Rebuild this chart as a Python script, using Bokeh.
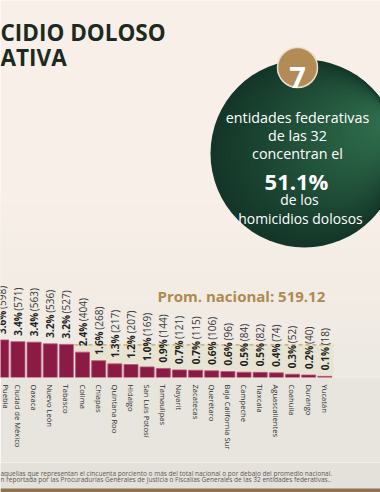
import numpy as np
from bokeh.plotting import figure
from bokeh.layouts import column
from bokeh.models import Range1d, FixedTicker
from bokeh.core.properties import value
from bokeh.embed import file_html
from bokeh.resources import INLINE

# ---------------- data ----------------
states = ["Puebla", "Ciudad de México", "Oaxaca", "Nuevo León", "Tabasco", "Colima",
          "Chiapas", "Quintana Roo", "Hidalgo", "San Luis Potosí", "Tamaulipas",
          "Nayarit", "Zacatecas", "Querétaro", "Baja California Sur", "Campeche",
          "Tlaxcala", "Aguascalientes", "Coahuila", "Durango", "Yucatán"]
homicides = [598, 571, 563, 536, 527, 404, 268, 217, 207, 169, 144,
             121, 115, 106, 96, 84, 82, 74, 52, 40, 18]
shares = ["3.6%", "3.4%", "3.4%", "3.2%", "3.2%", "2.4%", "1.6%", "1.3%", "1.2%",
          "1.0%", "0.9%", "0.7%", "0.7%", "0.6%", "0.6%", "0.5%", "0.5%", "0.4%",
          "0.3%", "0.2%", "0.1%"]
counts = ["(598)", "(571)", "(563)", "(536)", "(527)", "(404)", "(268)", "(217)",
          "(207)", "(169)", "(144)", "(121)", "(115)", "(106)", "(96)", "(84)",
          "(82)", "(74)", "(52)", "(40)", "(18)"]
national_avg = 519.12
title_lines = ["CIDIO DOLOSO", "ATIVA"]
badge_number = "7"
badge_lines = ["entidades federativas", "de las 32", "concentran el"]
badge_share = "51.1%"
badge_tail = ["de los", "homicidios dolosos"]
avg_label = "Prom. nacional: 519.12"
footnotes = ["aquellas que representan el cincuenta porciento o más del total nacional o por debajo del promedio nacional.",
             "n reportada por las Procuradurías Generales de Justicia o Fiscalías Generales de las 32 entidades federativas.."]

# ---------------- layout ----------------
W, H = 380, 492
FRAME_H = 377
MAIN_H = 462
Y_END = 6003.0
UPX = Y_END / FRAME_H          # data units per pixel
FONT = "Open Sans"
BORDER = "#e8e4de"

def U(y):                      # page-pixel y -> "py" range value
    return MAIN_H - y

p = figure(width=W, height=MAIN_H, x_range=Range1d(-0.08, 23.45), y_range=Range1d(0, Y_END),
           output_backend="svg", toolbar_location=None, y_axis_location=None,
           min_border_left=0, min_border_right=0, min_border_top=0,
           min_border_bottom=MAIN_H - FRAME_H,
           background_fill_color="#f8f0e8", border_fill_color=BORDER,
           outline_line_color=None)
p.extra_x_ranges = {"px": Range1d(0, W)}
p.extra_y_ranges = {"py": Range1d(U(FRAME_H), U(0))}
p.xgrid.visible = False
p.ygrid.visible = False

# frame background: vertical gradient built from overlapping bands
top_c = np.array([248, 240, 232]); bot_c = np.array([237, 233, 227])
nb = 14
for k in range(nb):
    f = k / (nb - 1)
    yt = 190 + f * (370 - 190)
    c = (top_c * (1 - f) + bot_c * f).astype(int)
    p.quad(left=[0], right=[W], top=[U(yt)], bottom=[U(FRAME_H)],
           fill_color="#%02x%02x%02x" % tuple(c), line_color=None,
           x_range_name="px", y_range_name="py")

# title
p.text(x=[0, 0], y=[U(32), U(57)], text=title_lines, x_range_name="px", y_range_name="py",
       text_font=value(FONT), text_font_size="22.5px", text_font_style="bold",
       text_color="#1c2a21", text_baseline="alphabetic", text_align="left")

# green circle with a gradient made of nested circles
R = 94; cx, cy = 304, 153
N = 36
ang = np.deg2rad(20)
c0 = np.array([20, 54, 40]); c1 = np.array([47, 108, 75])
for k in range(N):
    f = k / (N - 1)
    r = R * (1 - 0.9 * f)
    ccx = cx + (R - r) * np.cos(ang)
    ccy = cy - (R - r) * np.sin(ang)
    c = (c0 * (1 - f) + c1 * f).astype(int)
    p.scatter(x=[ccx], y=[U(ccy)], size=2 * r, marker="circle",
              fill_color="#%02x%02x%02x" % tuple(c), line_color=None,
              x_range_name="px", y_range_name="py")

# gold badge
p.scatter(x=[297], y=[U(67)], size=40, marker="circle", fill_color="#b38b57",
          line_color="#eadfcc", line_width=1.5, x_range_name="px", y_range_name="py")
p.text(x=[297], y=[U(77)], text=[badge_number], x_range_name="px", y_range_name="py",
       text_font=value(FONT), text_font_size="29px", text_font_style="bold",
       text_color="white", text_align="center", text_baseline="alphabetic")

p.text(x=[297, 297, 297], y=[U(117), U(135), U(153)], text=badge_lines,
       x_range_name="px", y_range_name="py", text_font=value(FONT), text_font_size="14.3px",
       text_color="white", text_align="center", text_baseline="alphabetic")
p.text(x=[296], y=[U(180)], text=[badge_share], x_range_name="px", y_range_name="py",
       text_font=value(FONT), text_font_size="22px", text_font_style="bold",
       text_color="white", text_align="center", text_baseline="alphabetic")
p.text(x=[299, 300], y=[U(199), U(218)], text=badge_tail,
       x_range_name="px", y_range_name="py", text_font=value(FONT), text_font_size="13.9px",
       text_color="white", text_align="center", text_baseline="alphabetic")

# average label
p.text(x=[157], y=[U(295)], text=[avg_label], x_range_name="px", y_range_name="py",
       text_font=value(FONT), text_font_size="15px", text_font_style="bold",
       text_color="#ae8a4f", text_align="left", text_baseline="alphabetic")

# bars
idx = list(range(len(states)))
below = [i for i, h in enumerate(homicides) if h < national_avg]
x0 = below[0] - 0.5
x1 = below[-1] + 0.55
p.quad(left=[x0], right=[x1], bottom=[0], top=[national_avg], fill_color="#e6e2cf",
       fill_alpha=0.75, line_color=None)
p.vbar(x=idx, top=homicides, width=0.87, fill_color="#8b1a45",
       line_color="#b5587a", line_width=0.8)
p.segment(x0=[x0], x1=[x1], y0=[national_avg], y1=[national_avg],
          line_color="#c3a25c", line_width=1.2, line_dash="4 3")

lab_y = [h + 6 * UPX for h in homicides]
cnt_y = [h + 31 * UPX for h in homicides]
p.text(x=idx, y=lab_y, text=shares, angle=np.pi / 2, text_font=value(FONT),
       text_font_size="10px", text_font_style="bold", text_color="#1e1e1e",
       text_align="left", text_baseline="middle")
p.text(x=idx, y=cnt_y, text=counts, angle=np.pi / 2, text_font=value(FONT),
       text_font_size="10px", text_color="#3a3a3a",
       text_align="left", text_baseline="middle")

# x axis
ax = p.xaxis[0]
ax.ticker = FixedTicker(ticks=idx)
ax.major_label_overrides = {i: s for i, s in enumerate(states)}
ax.major_label_orientation = "vertical"
ax.axis_line_color = None
ax.major_tick_line_color = None
ax.minor_tick_line_color = None
ax.major_tick_out = 0
ax.major_tick_in = 0
ax.minor_tick_out = 0
ax.minor_tick_in = 0
ax.major_label_standoff = 7
ax.major_label_text_font = FONT
ax.major_label_text_font_size = "7.6px"
ax.major_label_text_color = "#2b2b2b"

# footnote strip (second figure, page y 462..492)
q = figure(width=W, height=H - MAIN_H, x_range=Range1d(0, W), y_range=Range1d(H, MAIN_H),
           output_backend="svg", toolbar_location=None, x_axis_location=None,
           y_axis_location=None, min_border=0, background_fill_color="#e4e0da",
           border_fill_color="#e4e0da", outline_line_color=None)
q.xgrid.visible = False
q.ygrid.visible = False
q.text(x=[0, 0], y=[473, 479], text=footnotes, text_font=value(FONT),
       text_font_size="6.5px", text_color="#5e5a56", text_baseline="alphabetic",
       text_align="left")
q.quad(left=[0], right=[W], top=[488], bottom=[H], fill_color="#8e7252", line_color=None)

layout = column(p, q, spacing=0)
open("out.html", "w").write(file_html(layout, INLINE))
